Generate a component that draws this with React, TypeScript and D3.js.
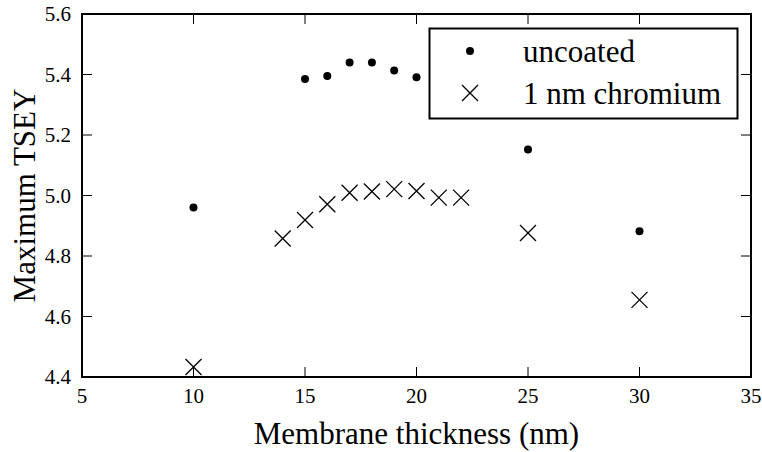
import React from "react";
import * as d3 from "d3";

const uncoatedX = [10, 15, 16, 17, 18, 19, 20, 25, 30];
const uncoatedY = [4.96, 5.385, 5.395, 5.44, 5.44, 5.413, 5.391, 5.152, 4.882];
const chromiumX = [10, 14, 15, 16, 17, 18, 19, 20, 21, 22, 25, 30];
const chromiumY = [4.433, 4.858, 4.919, 4.971, 5.009, 5.013, 5.021, 5.015, 4.993, 4.993, 4.876, 4.655];
const xTicks = [5, 10, 15, 20, 25, 30, 35];
const yTicks = [4.4, 4.6, 4.8, 5.0, 5.2, 5.4, 5.6];
const legendLabels = ["uncoated", "1 nm chromium"];
const xLabel = "Membrane thickness (nm)";
const yLabel = "Maximum TSEY";

const W = 762;
const H = 452;
const L = 82, R = 751, T = 14, B = 377;
const txt = { fontFamily: '"Liberation Serif", "Times New Roman", serif' } as React.CSSProperties;

export default function App() {
  const x = d3.scaleLinear().domain([5, 35]).range([L, R]);
  const y = d3.scaleLinear().domain([4.4, 5.6]).range([B, T]);
  const tickLen = 10;
  const cross = (cx: number, cy: number, s: number, key: string) => (
    <path
      key={key}
      d={`M${cx - s},${cy - s}L${cx + s},${cy + s}M${cx - s},${cy + s}L${cx + s},${cy - s}`}
      stroke="#000"
      strokeWidth={1.3}
      fill="none"
    />
  );
  const lx = 470;
  const ly1 = 51;
  const ly2 = 93;
  return (
    <svg
      width={W}
      height={H}
      style={{ position: "absolute", left: 0, top: 0, background: "#fff" }}
    >
      <rect x={0} y={0} width={W} height={H} fill="#fff" />
      {xTicks.map((t) => (
        <g key={"xt" + t}>
          <line x1={x(t)} x2={x(t)} y1={B} y2={B - tickLen} stroke="#000" strokeWidth={1} />
          <line x1={x(t)} x2={x(t)} y1={T} y2={T + tickLen} stroke="#000" strokeWidth={1} />
          <text style={txt} x={x(t)} y={396} textAnchor="middle" dominantBaseline="central" fontSize={21}>
            {d3.format("d")(t)}
          </text>
        </g>
      ))}
      {yTicks.map((t) => (
        <g key={"yt" + t}>
          <line x1={L} x2={L + tickLen} y1={y(t)} y2={y(t)} stroke="#000" strokeWidth={1} />
          <line x1={R} x2={R - tickLen} y1={y(t)} y2={y(t)} stroke="#000" strokeWidth={1} />
          <text style={txt} x={71} y={y(t)} textAnchor="end" dominantBaseline="central" fontSize={21}>
            {d3.format(".1f")(t)}
          </text>
        </g>
      ))}
      {uncoatedX.map((v, i) => (
        <circle key={"u" + i} cx={x(v)} cy={y(uncoatedY[i])} r={4} fill="#000" />
      ))}
      {chromiumX.map((v, i) => cross(x(v), y(chromiumY[i]), 8, "c" + i))}
      <rect x={L} y={T} width={R - L} height={B - T} fill="none" stroke="#000" strokeWidth={2} />
      <rect x={429.5} y={28.5} width={308} height={90} fill="#fff" stroke="#000" strokeWidth={2} />
      <circle cx={lx} cy={ly1} r={4} fill="#000" />
      {cross(lx, ly2, 8, "lc")}
      <text style={txt} x={523} y={ly1} dominantBaseline="central" fontSize={31}>{legendLabels[0]}</text>
      <text style={txt} x={523} y={ly2} dominantBaseline="central" fontSize={31}>{legendLabels[1]}</text>
      <text style={txt} x={(L + R) / 2} y={433} textAnchor="middle" dominantBaseline="central" fontSize={31}>
        {xLabel}
      </text>
      <text
        style={txt}
        transform={`translate(24,${(T + B) / 2}) rotate(-90)`}
        textAnchor="middle"
        dominantBaseline="central"
        fontSize={31}
      >
        {yLabel}
      </text>
    </svg>
  );
}
